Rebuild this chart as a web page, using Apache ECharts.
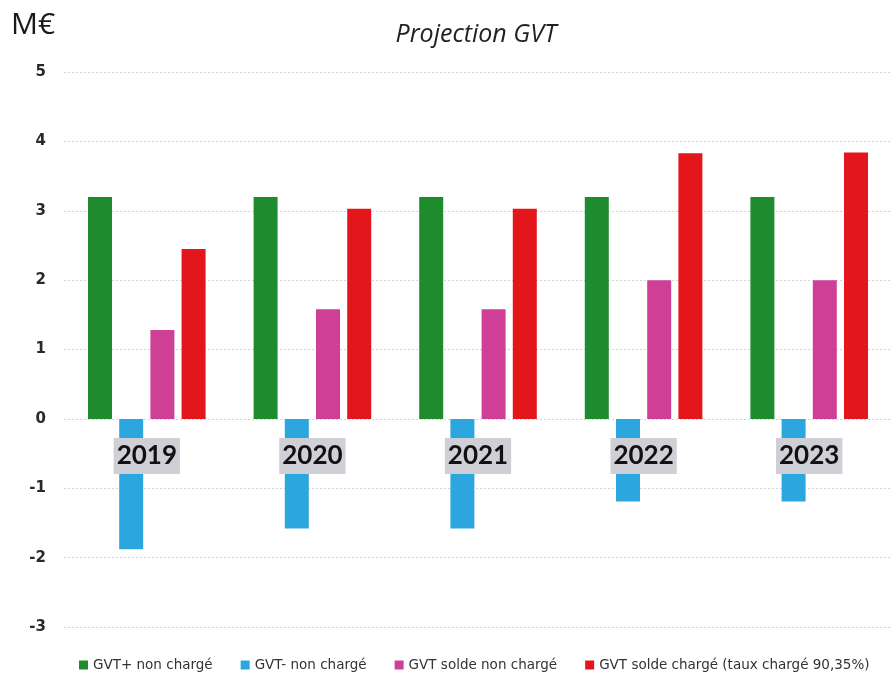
<!DOCTYPE html>
<html>
<head>
<meta charset="utf-8">
<script src="https://cdn.jsdelivr.net/npm/echarts@6/dist/echarts.min.js"></script>
<style>
  html, body { margin: 0; padding: 0; background: #fff; }
  #chart { width: 892px; height: 682px; }
</style>
</head>
<body>
<div id="chart"></div>
<script>
// données (M€)
var annees = ["2019", "2020", "2021", "2022", "2023"];
var gvtPlus = [3.2, 3.2, 3.2, 3.2, 3.2];
var gvtMoins = [-1.88, -1.58, -1.58, -1.19, -1.19];
var soldeNonCharge = [1.28, 1.58, 1.58, 2.0, 2.0];
var soldeCharge = [2.45, 3.03, 3.03, 3.83, 3.84];
var nomsSeries = ["GVT+ non chargé", "GVT- non chargé", "GVT solde non chargé", "GVT solde chargé (taux chargé 90,35%)"];
var ticksY = [-3, -2, -1, 0, 1, 2, 3, 4, 5];

var couleurs = ["#1f8b2f", "#2ba6de", "#cf3f96", "#e3161c"];

var chart = echarts.init(document.getElementById("chart"));

// zone de tracé
var grilleHaut = 72, grilleBas = 55;
var hauteurGrille = 682 - grilleHaut - grilleBas;
var yMin = ticksY[0], yMax = ticksY[ticksY.length - 1];
// décalage pour placer les années sur la ligne du zéro
var decalageZero = -hauteurGrille * (0 - yMin) / (yMax - yMin);

function serie(i, data) {
  return {
    name: nomsSeries[i],
    type: "bar",
    data: data,
    barWidth: 24,
    barGap: "30%",
    itemStyle: { color: couleurs[i] }
  };
}

var option = {
  backgroundColor: "#ffffff",
  animation: false,
  title: {
    text: "Projection GVT",
    left: 471,
    top: 17,
    textAlign: "center",
    textStyle: {
      fontFamily: "Open Sans",
      fontStyle: "italic",
      fontWeight: "normal",
      fontSize: 25,
      color: "#222"
    }
  },
  graphic: [
    {
      type: "text",
      left: 11,
      top: 10,
      style: { text: "M€", font: "30px 'Open Sans'", fill: "#1a1a1a" }
    }
  ],
  legend: {
    data: nomsSeries,
    left: 79,
    bottom: 10,
    padding: 0,
    itemWidth: 9,
    itemHeight: 9,
    itemGap: 28,
    icon: "rect",
    textStyle: { fontFamily: "DejaVu Sans", fontSize: 13.5, color: "#333" }
  },
  grid: {
    left: 64,
    right: -12,
    top: grilleHaut,
    bottom: grilleBas
  },
  xAxis: {
    type: "category",
    data: annees,
    offset: decalageZero,
    z: 10,
    axisLine: { show: false },
    axisTick: { show: false },
    axisLabel: {
      margin: 19,
      fontFamily: "Lato",
      fontWeight: "bold",
      fontSize: 26,
      color: "#111",
      backgroundColor: "#cfd0d6",
      padding: [5, 3, 5, 3]
    }
  },
  yAxis: {
    type: "value",
    min: yMin,
    max: yMax,
    interval: 1,
    axisLine: { show: false },
    axisTick: { show: false },
    axisLabel: {
      margin: 18,
      fontFamily: "DejaVu Sans",
      fontWeight: "bold",
      fontSize: 15,
      color: "#2a2a2a"
    },
    splitLine: {
      lineStyle: { color: "#d4d4d4", type: [2, 2], width: 1 }
    }
  },
  series: [
    serie(0, gvtPlus),
    serie(1, gvtMoins),
    serie(2, soldeNonCharge),
    serie(3, soldeCharge)
  ]
};

chart.setOption(option);
</script>
</body>
</html>
